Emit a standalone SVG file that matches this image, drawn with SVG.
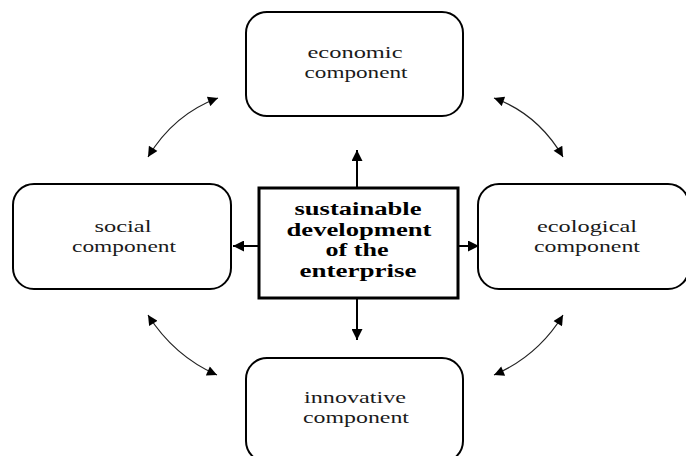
<svg xmlns="http://www.w3.org/2000/svg" width="686" height="456" viewBox="0 0 686 456">
<style>
.box{fill:#fff;stroke:#000;stroke-width:2}
.core{fill:#fff;stroke:#000;stroke-width:3}
.t{font-family:"Liberation Serif","Times New Roman",serif;font-size:17.5px;fill:#1a1a1a;text-anchor:middle}
.b{font-family:"Liberation Serif","Times New Roman",serif;font-size:18px;font-weight:bold;fill:#000;text-anchor:middle}
.thick{fill:none;stroke:#000;stroke-width:2}
.thin{fill:none;stroke:#222;stroke-width:1.2}
</style>
<defs>
<marker id="ah" viewBox="0 0 10 10" refX="10" refY="5" markerUnits="userSpaceOnUse" markerWidth="11" markerHeight="11" orient="auto-start-reverse">
<path d="M0,0 L10,5 L0,10 z" fill="#000"/>
</marker>
<marker id="ah2" viewBox="0 0 10 10" refX="10" refY="5" markerUnits="userSpaceOnUse" markerWidth="12" markerHeight="10" orient="auto-start-reverse">
<path d="M0,0 L10,5 L0,10 z" fill="#000"/>
</marker>
</defs>
<g id="connectors">
<path class="thick" d="M357,187 L357,150" marker-end="url(#ah)"/>
<path class="thick" d="M357,298 L357,340" marker-end="url(#ah)"/>
<path class="thick" d="M258,246 L233,246" marker-end="url(#ah)"/>
<path class="thick" d="M458,246 L479,246" marker-end="url(#ah)"/>
<path class="thin" d="M218,98 Q174,114 148,157" marker-start="url(#ah2)" marker-end="url(#ah2)"/>
<path class="thin" d="M494,98 Q538,114 563,157" marker-start="url(#ah2)" marker-end="url(#ah2)"/>
<path class="thin" d="M148,315 Q174,356 217,375" marker-start="url(#ah2)" marker-end="url(#ah2)"/>
<path class="thin" d="M563,315 Q538,356 494,375" marker-start="url(#ah2)" marker-end="url(#ah2)"/>
</g>
<g id="economic">
<rect class="box" x="246" y="12" width="217" height="104" rx="21"/>
<text class="t" x="355" y="58" textLength="95" lengthAdjust="spacingAndGlyphs">economic</text>
<text class="t" x="356" y="78" textLength="103" lengthAdjust="spacingAndGlyphs">component</text>
</g>
<g id="social">
<rect class="box" x="13" y="184" width="218" height="105" rx="21"/>
<text class="t" x="123" y="232" textLength="57" lengthAdjust="spacingAndGlyphs">social</text>
<text class="t" x="124" y="252" textLength="104" lengthAdjust="spacingAndGlyphs">component</text>
</g>
<g id="center">
<rect class="core" x="259" y="188" width="199" height="110"/>
<text class="b" x="358" y="215" textLength="127" lengthAdjust="spacingAndGlyphs">sustainable</text>
<text class="b" x="359" y="235.5" textLength="145" lengthAdjust="spacingAndGlyphs">development</text>
<text class="b" x="357" y="256" textLength="63" lengthAdjust="spacingAndGlyphs">of the</text>
<text class="b" x="358" y="276.5" textLength="117" lengthAdjust="spacingAndGlyphs">enterprise</text>
</g>
<g id="ecological">
<rect class="box" x="478" y="184" width="211" height="105" rx="21"/>
<text class="t" x="587" y="232" textLength="100" lengthAdjust="spacingAndGlyphs">ecological</text>
<text class="t" x="587" y="252" textLength="106" lengthAdjust="spacingAndGlyphs">component</text>
</g>
<g id="innovative">
<rect class="box" x="246" y="358" width="217" height="104" rx="21"/>
<text class="t" x="355" y="403" textLength="102" lengthAdjust="spacingAndGlyphs">innovative</text>
<text class="t" x="356" y="423" textLength="106" lengthAdjust="spacingAndGlyphs">component</text>
</g>
</svg>
